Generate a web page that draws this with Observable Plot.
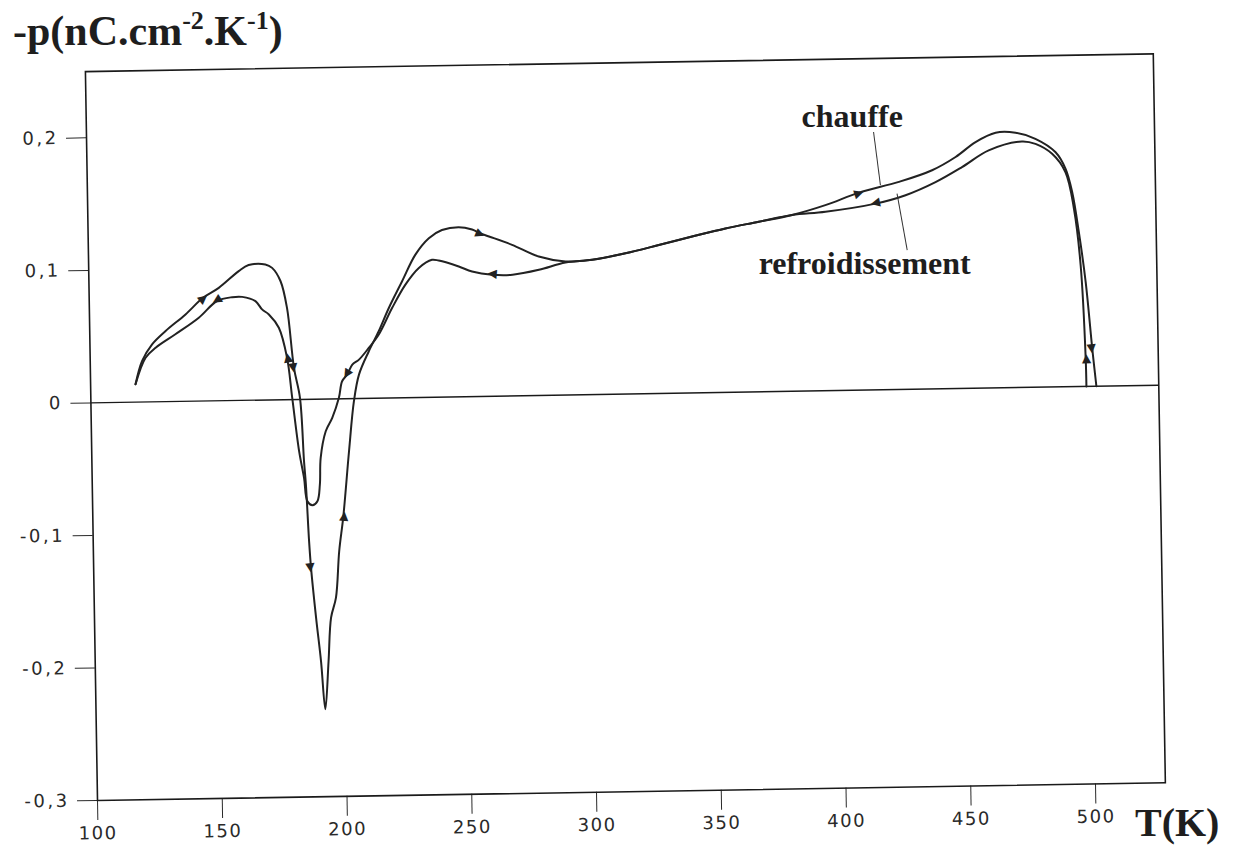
<!DOCTYPE html>
<html>
<head>
<meta charset="utf-8">
<script src="https://cdn.jsdelivr.net/npm/d3@7"></script>
<script src="https://cdn.jsdelivr.net/npm/@observablehq/plot@0.6"></script>
<style>
  html, body { margin: 0; padding: 0; background: #fff; }
  body { width: 1237px; height: 855px; position: relative; overflow: hidden; }
  #chart svg { position: absolute; left: 0; top: 0; transform: rotate(-0.95deg); transform-origin: 97px 800px; }
  #chart g[aria-label^="x-axis"] text { letter-spacing: 1.5px; }
  #chart g[aria-label^="y-axis"] text { letter-spacing: 2.5px; }
  .serif { font-family: "Liberation Serif", "Times New Roman", serif; font-weight: bold; color: #1e1e1e; position: absolute; line-height: 1; white-space: nowrap; }
  .serif sup { font-size: 0.62em; vertical-align: 0.62em; line-height: 0; }
</style>
</head>
<body>
<div id="chart"></div>
<div class="serif" style="left:13px; top:10px; font-size:42px;">-p(nC.cm<sup>-2</sup>.K<sup>-1</sup>)</div>
<div class="serif" style="left:1135px; top:803px; font-size:40px;">T(K)</div>
<script>
// ---- data ----
const heatT = [118.0, 120.8, 124.9, 130.4, 138.5, 145.6, 152.0, 160.1, 164.1, 170.8, 173.5, 176.8, 179.2, 181.6, 183.8, 185.0, 185.6, 186.5, 187.1, 188.8, 190.5, 191.9, 193.5, 194.8, 196.9, 198.5, 200.4, 203.1, 205.4, 207.6, 211.7, 215.8, 220.0, 225.5, 231.0, 236.5, 241.8, 248.5, 253.9, 257.2, 260.6, 269.8, 280.4, 291.1, 301.8, 315.2, 328.6, 342.0, 355.4, 368.8, 382.2, 395.6, 409.1, 425.2, 438.6, 448.1, 456.2, 464.3, 472.3, 480.2, 488.2, 492.1, 494.6, 497.0, 499.4, 501.6, 503.0];
const heatP = [0.0135, 0.031, 0.0434, 0.0533, 0.0656, 0.0779, 0.0852, 0.0976, 0.102, 0.1023, 0.0996, 0.0894, 0.0692, 0.0239, 0.0012, -0.0466, -0.0642, -0.107, -0.127, -0.165, -0.198, -0.234, -0.198, -0.165, -0.150, -0.115, -0.0886, -0.0397, -0.002, 0.018, 0.0355, 0.0505, 0.0679, 0.0879, 0.1078, 0.120, 0.126, 0.128, 0.126, 0.123, 0.1206, 0.114, 0.1048, 0.1008, 0.1017, 0.1062, 0.112, 0.118, 0.1237, 0.1283, 0.133, 0.140, 0.149, 0.1566, 0.165, 0.1747, 0.1857, 0.1925, 0.1922, 0.1874, 0.177, 0.1644, 0.1467, 0.1164, 0.0787, 0.0283, 0.0];
const coolT = [499.0, 498.9, 497.5, 495.2, 492.0, 486.8, 480.2, 474.8, 461.4, 450.6, 439.9, 427.8, 415.7, 395.6, 382.2, 368.8, 355.4, 342.0, 328.6, 315.2, 301.8, 291.1, 280.4, 269.8, 261.6, 253.6, 248.3, 240.3, 237.6, 232.3, 226.8, 221.3, 215.8, 211.7, 207.7, 205.0, 202.9, 200.8, 199.4, 196.6, 193.9, 191.7, 191.2, 190.1, 188.1, 186.1, 184.9, 183.1, 180.7, 178.9, 175.8, 171.9, 169.2, 166.6, 161.3, 157.3, 151.2, 143.8, 134.3, 126.3, 122.2, 118.0];
const coolP = [0.0, 0.0208, 0.0913, 0.134, 0.162, 0.1759, 0.1836, 0.1856, 0.1793, 0.167, 0.156, 0.1465, 0.1405, 0.135, 0.133, 0.1283, 0.1237, 0.118, 0.112, 0.1062, 0.1017, 0.100, 0.0948, 0.0914, 0.0917, 0.0944, 0.0983, 0.103, 0.1037, 0.0977, 0.0853, 0.0678, 0.048, 0.038, 0.0293, 0.0256, 0.0182, 0.0132, 0.0007, -0.0143, -0.0243, -0.0443, -0.0644, -0.077, -0.0799, -0.0768, -0.0592, -0.039, 0.0012, 0.0315, 0.0543, 0.0645, 0.0684, 0.0747, 0.0781, 0.078, 0.0753, 0.0629, 0.0507, 0.0408, 0.0334, 0.0135];
// positions (indices) along each curve where a direction arrow is drawn
const heatArrowIdx = [5, 13, 18, 26, 39, 52, 65];
const coolArrowIdx = [1, 12, 24, 36, 49, 56];
const xTicks = [100, 150, 200, 250, 300, 350, 400, 450, 500];
const yTicks = [-0.3, -0.2, -0.1, 0, 0.1, 0.2];
// annotations
const labelText = ["chauffe", "refroidissement"];
const labelT = [406.9, 410.9];
const labelP = [0.1987, 0.0879];
const leaderT1 = [415.4, 424.4], leaderP1 = [0.1946, 0.1478];
const leaderT2 = [417.8, 428.1], leaderP2 = [0.1544, 0.105];

// ---- layout ----
const W = 1237, H = 855;
const mL = 97, mT = 71, mR = 72, mB = 55;
const xDomain = [100, 528], yDomain = [-0.3, 0.25];
const kx = (W - mL - mR) / (xDomain[1] - xDomain[0]);
const ky = (H - mT - mB) / (yDomain[1] - yDomain[0]);

const heat = heatT.map((t, i) => ({T: t, P: heatP[i]}));
const cool = coolT.map((t, i) => ({T: t, P: coolP[i]}));

function arrows(data, idx) {
  return idx.map(i => {
    const a = data[Math.max(0, i - 1)], b = data[Math.min(data.length - 1, i + 1)];
    const ang = Math.atan2(-(b.P - a.P) * ky, (b.T - a.T) * kx) * 180 / Math.PI;
    return {T: data[i].T, P: data[i].P, a: ang};
  });
}
const arrowData = arrows(heat, heatArrowIdx).concat(arrows(cool, coolArrowIdx));
const labels = labelText.map((s, i) => ({s, T: labelT[i], P: labelP[i]}));
const leaders = leaderT1.map((t, i) => ({x1: t, y1: leaderP1[i], x2: leaderT2[i], y2: leaderP2[i]}));

const fmtY = d => d === 0 ? "0" : d.toFixed(1).replace(".", ",");

const plot = Plot.plot({
  width: W, height: H,
  marginLeft: mL, marginTop: mT, marginRight: mR, marginBottom: mB,
  style: {fontFamily: "DejaVu Sans, sans-serif", fontSize: "18px", color: "#2a2a2a", background: "transparent"},
  x: {domain: xDomain, ticks: xTicks, tickFormat: d => String(d), tickSize: 20, tickPadding: 6, label: null},
  y: {domain: yDomain, ticks: yTicks, tickFormat: fmtY, tickSize: 20, tickPadding: 8, label: null},
  marks: [
    Plot.frame({stroke: "#1a1a1a", strokeWidth: 1.6}),
    Plot.ruleY([0], {stroke: "#1a1a1a", strokeWidth: 1.4}),
    Plot.line(heat, {x: "T", y: "P", stroke: "#222", strokeWidth: 2, curve: "catmull-rom"}),
    Plot.line(cool, {x: "T", y: "P", stroke: "#222", strokeWidth: 2, curve: "catmull-rom"}),
    Plot.text(arrowData, {x: "T", y: "P", text: () => "\u25B6", rotate: "a", fontSize: 12, fill: "#222", textAnchor: "middle", lineAnchor: "middle"}),
    Plot.link(leaders, {x1: "x1", y1: "y1", x2: "x2", y2: "y2", stroke: "#333", strokeWidth: 1}),
    Plot.text(labels, {x: "T", y: "P", text: "s", fontFamily: "Liberation Serif, Times New Roman, serif", fontWeight: "bold", fontSize: 32, fill: "#1e1e1e", textAnchor: "middle", lineAnchor: "bottom", rotate: 0.95})
  ]
});
document.getElementById("chart").appendChild(plot);
</script>
</body>
</html>
